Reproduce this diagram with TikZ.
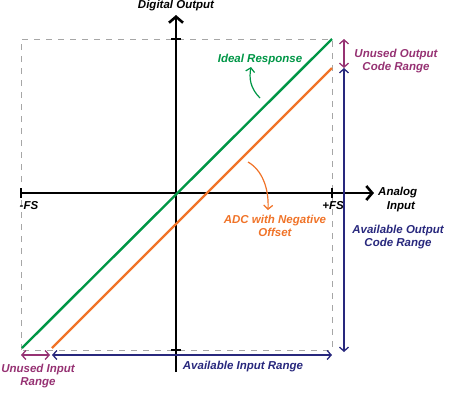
\documentclass[tikz,border=0pt]{standalone}
\usepackage{fontspec}
\setmainfont{Liberation Sans}
\usetikzlibrary{arrows.meta}

\definecolor{idealgreen}{RGB}{0,150,70}
\definecolor{offorange}{RGB}{240,115,40}
\definecolor{rangenavy}{RGB}{40,40,125}
\definecolor{unusedmag}{RGB}{150,50,115}

\begin{document}
\begin{tikzpicture}[
    x=1pt, y=-1pt,
    axis/.style={line width=2.6pt, black},
    tickmark/.style={line width=1.6pt, black},
    bound/.style={gray!70, line width=0.9pt, dash pattern=on 6pt off 6pt},
    resp/.style={line width=2.4pt},
    spanarrow/.style={line width=1.3pt, {Straight Barb[length=4pt,width=9pt]}-{Straight Barb[length=4pt,width=9pt]}},
    lbl/.style={font=\fontsize{11.5}{13}\selectfont\bfseries\itshape, inner sep=1pt, align=center},
    note/.style={line width=1.2pt, -{Straight Barb[length=4pt,width=9pt]}}
]
    \useasboundingbox (0,0) rectangle (455,400);

    % --- axes
    \coordinate (O)    at (176,193);
    \coordinate (ytop) at (176,15);
    \coordinate (ybot) at (176,372);
    \coordinate (xl)   at (21,193);
    \coordinate (xr)   at (374,193);

    % --- full scale box
    \coordinate (BL) at (21,350);
    \coordinate (TR) at (332,39);
    \draw[bound] (BL) rectangle (TR);

    \draw[axis, -{Straight Barb[length=6pt,width=14pt]}] (ybot) -- (ytop);
    \draw[axis, -{Straight Barb[length=6pt,width=14pt]}] (xl) -- (xr);

    % --- ticks
    \draw[tickmark] (171,39) -- (181,39);
    \draw[tickmark] (171,350) -- (181,350);
    \draw[tickmark] (21,188) -- (21,198);
    \draw[tickmark] (332,188) -- (332,198);

    % --- responses
    \coordinate (G0) at (22,348);
    \coordinate (G1) at (332,39);
    \coordinate (A0) at (52,348);
    \coordinate (A1) at (332,68);
    \draw[resp, idealgreen] (G0) -- (G1);
    \draw[resp, offorange] (A0) -- (A1);

    % --- labels
    \node[lbl] (dout) at (176,6) {Digital Output};
    \node[lbl, anchor=west] (ain) at (377,193) {Analog};
    \node[lbl] (ain2) at (401,207) {Input};
    \node[lbl] (mfs) at (29,206) {-FS};
    \node[lbl] (pfs) at (333,206) {+FS};

    \node[lbl, idealgreen] (ideal) at (260,60) {Ideal Response};
    \node[lbl, offorange] (adc) at (275,226) {ADC with Negative\\Offset};

    \node[lbl, unusedmag] (uout) at (396,61) {Unused Output\\Code Range};
    \node[lbl, rangenavy] (aout) at (398,237) {Available Output\\Code Range};
    \node[lbl, unusedmag] (uin) at (38,376) {Unused Input\\Range};
    \node[lbl, rangenavy] (ainr) at (243,367) {Available Input Range};

    % --- pointers
    \coordinate (gp0) at (260,98);
    \coordinate (gp1) at (251,67);
    \draw[note, idealgreen] (gp0) .. controls (250,88) and (249,78) .. (gp1);
    \coordinate (op0) at (248,162);
    \coordinate (op1) at (268,210);
    \draw[note, offorange] (op0) .. controls (262,170) and (269,188) .. (op1);

    % --- ranges
    \coordinate (ru0) at (344,39);
    \coordinate (ru1) at (344,68);
    \coordinate (rv1) at (344,352);
    \draw[spanarrow, unusedmag] (ru0) -- (ru1);
    \draw[spanarrow, rangenavy] (ru1) -- (rv1);

    \coordinate (hu0) at (21,355);
    \coordinate (hu1) at (50,355);
    \coordinate (hv0) at (52,355);
    \coordinate (hv1) at (332,355);
    \draw[spanarrow, unusedmag] (hu0) -- (hu1);
    \draw[spanarrow, rangenavy] (hv0) -- (hv1);
\end{tikzpicture}
\end{document}
